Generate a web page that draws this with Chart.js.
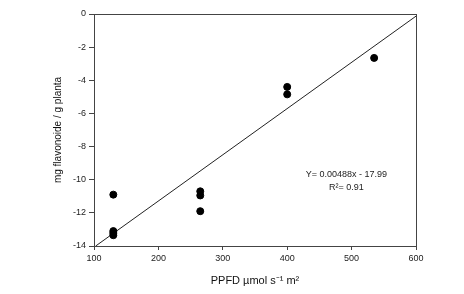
<!DOCTYPE html>
<html>
<head>
<meta charset="utf-8">
<script src="https://cdn.jsdelivr.net/npm/chart.js@4"></script>
<style>
  html, body { margin: 0; padding: 0; background: #fff; }
  #wrap { width: 464px; height: 294px; }
</style>
</head>
<body>
<div id="wrap"><canvas id="chart" width="464" height="294"></canvas></div>
<script>
"use strict";

// measured points (PPFD vs mg flavonoide / g planta)
const ppfd = [130, 130, 130, 130, 265, 265, 265, 400, 400, 535];
const flavonoide = [-10.9, -13.1, -13.22, -13.35, -10.7, -10.95, -11.9, -4.4, -4.85, -2.65];

// fitted line as drawn on the figure
const fitX = [102.6, 600];
const fitY = [-14, -0.13];

const xTicks = [100, 200, 300, 400, 500, 600];
const yTicks = [0, -2, -4, -6, -8, -10, -12, -14];

const eqLines = ["Y= 0.00488x - 17.99", "R\u00b2= 0.91"];

const fontFam = "'Liberation Sans', Arial, sans-serif";

// box round the plot + equation text
const framePlugin = {
  id: "frame",
  afterDraw(chart) {
    const ctx = chart.ctx;
    const a = chart.chartArea;
    ctx.save();
    ctx.strokeStyle = "#444";
    ctx.lineWidth = 1;
    ctx.strokeRect(Math.round(a.left) + 0.5, Math.round(a.top) + 0.5,
      Math.round(a.right - a.left), Math.round(a.bottom - a.top));
    ctx.fillStyle = "#222";
    ctx.font = "9px " + fontFam;
    ctx.textAlign = "center";
    ctx.textBaseline = "middle";
    const xs = chart.scales.x, ys = chart.scales.y;
    const cx = xs.getPixelForValue(492);
    ctx.fillText(eqLines[0], cx, ys.getPixelForValue(-9.7));
    ctx.fillText(eqLines[1], cx, ys.getPixelForValue(-10.47));
    ctx.restore();
  }
};

new Chart(document.getElementById("chart"), {
  type: "scatter",
  data: {
    datasets: [
      {
        label: "datos",
        data: ppfd.map((x, i) => ({ x: x, y: flavonoide[i] })),
        backgroundColor: "#000",
        borderColor: "#000",
        pointRadius: 3.5,
        pointHoverRadius: 3.5,
      },
      {
        type: "line",
        label: "ajuste",
        data: fitX.map((x, i) => ({ x: x, y: fitY[i] })),
        borderColor: "#222",
        borderWidth: 1,
        pointRadius: 0,
        fill: false,
      },
    ],
  },
  options: {
    responsive: false,
    animation: false,
    layout: { padding: { left: 52, right: 48, top: 14, bottom: 6 } },
    plugins: { legend: { display: false }, tooltip: { enabled: false } },
    scales: {
      x: {
        type: "linear",
        min: 100,
        max: 600,
        afterBuildTicks: (s) => { s.ticks = xTicks.map((v) => ({ value: v })); },
        afterFit: (s) => { s.height = 42; },
        grid: { drawOnChartArea: false, drawTicks: true, tickLength: 4, color: "#444" },
        border: { display: true, color: "#444" },
        ticks: { color: "#222", font: { family: fontFam, size: 9 }, padding: 3, maxRotation: 0 },
        title: {
          display: true,
          text: "PPFD \u00b5mol s\u207b\u00b9 m\u00b2",
          color: "#111",
          font: { family: fontFam, size: 11 },
          padding: { top: 5, bottom: 0 },
        },
      },
      y: {
        type: "linear",
        min: -14,
        max: 0,
        afterBuildTicks: (s) => { s.ticks = yTicks.map((v) => ({ value: v })); },
        afterFit: (s) => { s.width = 42; },
        grid: { drawOnChartArea: false, drawTicks: true, tickLength: 5, color: "#444" },
        border: { display: true, color: "#444" },
        ticks: { color: "#222", font: { family: fontFam, size: 9 }, padding: 3 },
        title: {
          display: true,
          text: "mg flavonoide / g planta",
          color: "#111",
          font: { family: fontFam, size: 10 },
          padding: { top: 0, bottom: 4 },
        },
      },
    },
  },
  plugins: [framePlugin],
});
</script>
</body>
</html>
